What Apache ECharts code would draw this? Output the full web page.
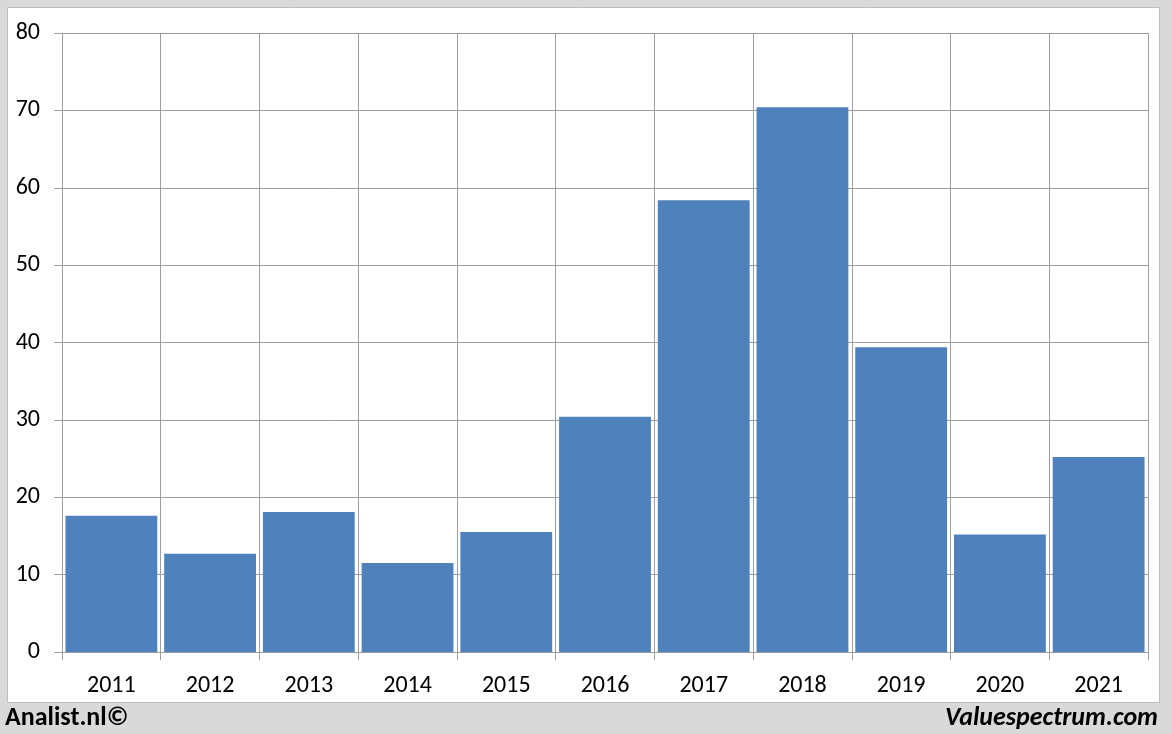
<!DOCTYPE html>
<html><head><meta charset="utf-8">
<script src="https://cdn.jsdelivr.net/npm/echarts@6/dist/echarts.min.js"></script>
<style>html,body{margin:0;padding:0;background:#d9d9d9;}#c{width:1172px;height:734px;}</style>
</head><body><div id="c"></div>
<script>
var categories = ['2011','2012','2013','2014','2015','2016','2017','2018','2019','2020','2021'];
var values = [17.6, 12.7, 18.1, 11.5, 15.5, 30.4, 58.4, 70.4, 39.4, 15.2, 25.2];
var yTicks = [0, 80, 10];
var leftCredit = 'Analist.nl©';
var rightCredit = 'Valuespectrum.com';

var chart = echarts.init(document.getElementById('c'), null, {renderer:'canvas'});
var font = "Calibri, Carlito, 'Open Sans', 'Liberation Sans', sans-serif";
chart.setOption({
  backgroundColor: '#d9d9d9',
  animation: false,
  graphic: [
    {type:'rect', shape:{x:7.5,y:7.5,width:1152,height:695}, style:{fill:'#ffffff', stroke:'#bdbdbd', lineWidth:1}, z:-10},
    {type:'text', left:5, top:705, style:{text:leftCredit, font:"bold 26px "+font, fill:'#000'}},
    {type:'text', right:14, top:705, style:{text:rightCredit, font:"italic bold 26px "+font, fill:'#000'}}
  ],
  grid: {left:62, right:24, top:33, bottom:82, containLabel:false},
  xAxis: {
    type:'category', data:categories, boundaryGap:true,
    axisLine:{show:true, lineStyle:{color:'#9e9e9e', width:1}},
    axisTick:{show:true, length:8, lineStyle:{color:'#9e9e9e'}},
    splitLine:{show:true, lineStyle:{color:'#9e9e9e', width:1}},
    axisLabel:{color:'#000', fontSize:24, fontFamily:font, margin:22}
  },
  yAxis: {
    type:'value', min:yTicks[0], max:yTicks[1], interval:yTicks[2],
    axisLine:{show:true, lineStyle:{color:'#9e9e9e', width:1}},
    axisTick:{show:true, length:8, lineStyle:{color:'#9e9e9e'}},
    splitLine:{show:true, lineStyle:{color:'#9e9e9e', width:1}},
    axisLabel:{color:'#000', fontSize:24, fontFamily:font, margin:22}
  },
  series: [{
    type:'bar', data:values, barCategoryGap:'7%',
    itemStyle:{color:'#4f81bd'}
  }]
});
</script></body></html>
